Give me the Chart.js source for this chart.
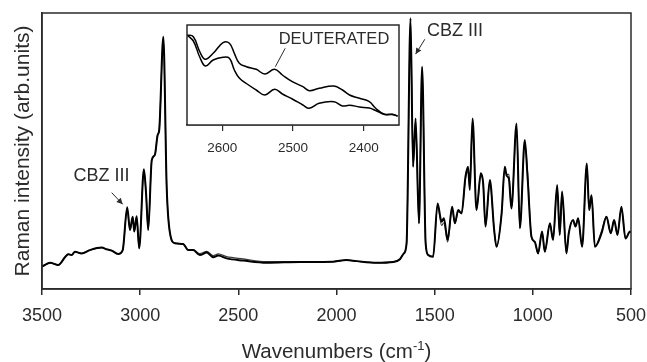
<!DOCTYPE html>
<html>
<head>
<meta charset="utf-8">
<script src="https://cdn.jsdelivr.net/npm/chart.js@4.4.1/dist/chart.umd.min.js"></script>
<style>
  html, body { margin: 0; padding: 0; background: #fff; }
  #wrap { position: relative; width: 647px; height: 362px; }
  #main { position: absolute; left: 0; top: 0; }
  #inset { position: absolute; left: 170px; top: 15px; }
</style>
</head>
<body>
<div id="wrap">
  <canvas id="main" width="647" height="362"></canvas>
  <canvas id="inset" width="245" height="145"></canvas>
</div>
<script>
// ---------------- DATA (main spectrum) ----------------
const wavenumbers = [3500, 3496, 3459, 3417, 3383, 3366, 3349, 3332, 3298, 3256, 3196, 3171, 3145, 3112, 3089,
  3066, 3052, 3038, 3030, 3018, 3005, 2981, 2970, 2959, 2941, 2925, 2911, 2903, 2882, 2865, 2848, 2823,
  2781, 2755, 2730, 2696, 2661, 2628, 2602, 2560, 2475, 2356, 2186, 2017, 1949, 1898, 1796, 1711, 1677,
  1657, 1643, 1623, 1610, 1597, 1580, 1564, 1546, 1533, 1508, 1485, 1465, 1453, 1434, 1411, 1397, 1380,
  1363, 1343, 1330, 1321, 1307, 1287, 1265, 1253, 1241, 1219, 1197, 1185, 1159, 1143, 1133, 1122, 1109,
  1083, 1066, 1041, 1027, 1007, 990, 973, 953, 939, 913, 897, 876, 863, 851, 829, 817, 795, 783, 769,
  749, 725, 713, 701, 684, 650, 625, 603, 586, 569, 549, 528, 505, 500];

const intensityA = [8.2, 8.3, 9.5, 8.7, 11.5, 12.6, 12.3, 13.5, 12.9, 14.1, 15.0, 14.4, 13.9, 12.7, 14.1,
  29.6, 21.4, 26.2, 20.8, 26.4, 14.7, 43.4, 34.7, 21.4, 46.7, 48.6, 55.8, 57.6, 91.4, 37.1, 20.2, 16.6,
  16.3, 14.1, 14.1, 12.3, 13.2, 11.5, 12.1, 11.1, 10.3, 9.5, 9.8, 9.9, 10.5, 10.1, 9.5, 9.8, 10.8,
  12.9, 16.6, 98.1, 44.3, 61.8, 23.8, 80.5, 16.6, 12.3, 11.7, 31.0, 24.4, 25.6, 17.8, 29.8, 23.8, 28.6,
  27.4, 40.7, 44.3, 35.9, 61.8, 28.6, 41.9, 38.3, 22.6, 39.5, 21.4, 15.3, 27.4, 44.3, 41.0, 40.0, 29.2,
  60.0, 22.0, 54.0, 40.7, 18.9, 17.1, 12.9, 20.8, 13.5, 23.8, 17.8, 37.7, 19.6, 35.3, 12.9, 20.2, 25.0, 22.6, 25.6,
  15.3, 45.5, 28.6, 34.0, 15.3, 20.2, 26.2, 20.2, 25.0, 19.6, 29.8, 18.3, 20.8, 20.5];

const intensityB = [8.2, 8.3, 9.5, 8.7, 11.5, 12.6, 12.3, 13.5, 12.9, 14.1, 15.0, 14.4, 13.9, 12.7, 14.1,
  29.0, 21.4, 26.0, 20.8, 26.2, 14.7, 43.0, 34.7, 21.4, 46.5, 48.6, 55.8, 57.6, 91.0, 37.1, 20.2, 16.6,
  16.3, 14.1, 14.3, 12.8, 13.6, 12.1, 12.7, 11.7, 10.9, 9.9, 9.9, 9.9, 10.5, 10.1, 9.5, 9.8, 10.8,
  12.9, 16.6, 97.5, 44.3, 61.0, 23.8, 80.0, 16.6, 12.3, 11.7, 30.5, 23.0, 24.0, 17.0, 29.0, 23.8, 28.0,
  27.4, 40.0, 42.5, 38.0, 61.0, 28.6, 41.0, 38.3, 22.6, 39.0, 21.4, 15.3, 27.4, 43.0, 41.5, 41.5, 29.2,
  59.0, 22.0, 52.5, 42.5, 18.9, 17.1, 12.9, 20.8, 13.5, 23.8, 17.8, 37.0, 19.6, 35.0, 12.9, 20.2, 25.0, 22.6, 25.6,
  15.3, 45.0, 28.6, 34.0, 15.3, 21.0, 26.2, 20.2, 25.0, 19.6, 29.5, 18.3, 20.8, 20.5];

const mainTicks = [3500, 3000, 2500, 2000, 1500, 1000, 500];

// ---------------- DATA (inset) ----------------
const insetWavenumbers = [2650, 2641, 2632, 2624, 2613, 2599, 2590, 2583, 2576, 2566, 2552, 2540, 2526, 2515,
  2501, 2486, 2477, 2463, 2442, 2430, 2420, 2406, 2392, 2383, 2371, 2360, 2352];
const insetUpper = [90, 88.3, 73.3, 65.7, 71.7, 82.3, 81.7, 71.7, 61.7, 58.3, 55.7, 51, 55.7, 50,
  43.3, 38.3, 34.3, 36.7, 39, 35, 30, 26.7, 23.3, 16.7, 10.7, 10.7, 9];
const insetLower = [90, 84, 68, 59, 65, 67.7, 66.7, 55, 47, 41.5, 35, 30, 35.7, 31,
  26, 20, 16.7, 21.7, 23.3, 19, 19.8, 18, 16.9, 14.5, 10.7, 10.5, 9];
const insetTicks = [2600, 2500, 2400];

// ---------------- helpers ----------------
const FONT = '"Liberation Sans", Arial, Helvetica, sans-serif';
const INK = '#2b2b2b';
const toPts = (xs, ys) => xs.map((v, i) => ({ x: v, y: ys[i] }));
const plain = v => String(v);
const noSidePad = s => { s.paddingLeft = 0; s.paddingRight = 0; };

function arrow(ctx, x1, y1, x2, y2, head) {
  ctx.beginPath(); ctx.moveTo(x1, y1); ctx.lineTo(x2, y2); ctx.stroke();
  if (head) {
    const ang = Math.atan2(y2 - y1, x2 - x1);
    const L = 6, W = 3;
    ctx.beginPath();
    ctx.moveTo(x2, y2);
    ctx.lineTo(x2 - L * Math.cos(ang) + W * Math.sin(ang), y2 - L * Math.sin(ang) - W * Math.cos(ang));
    ctx.lineTo(x2 - L * Math.cos(ang) - W * Math.sin(ang), y2 - L * Math.sin(ang) + W * Math.cos(ang));
    ctx.closePath(); ctx.fill();
  }
}

// annotations in data coordinates
const mainNotes = [
  { text: 'CBZ III', x: 3197, y: 40.8, from: [3145, 34.9], to: [3089, 30.7] },
  { text: 'CBZ III', x: 1397, y: 93.3, from: [1550, 90.5], to: [1597, 85.1] }
];
const insetNotes = [
  { text: 'DEUTERATED', x: 2442, y: 86, from: [2511, 76.7], to: [2525, 58.3] }
];

const mainPlugin = {
  id: 'mainDecor',
  afterDraw(chart) {
    const { ctx, chartArea: a, scales: { x, y } } = chart;
    ctx.save();
    ctx.strokeStyle = INK; ctx.lineWidth = 1.5;
    ctx.strokeRect(a.left, a.top, a.right - a.left, a.bottom - a.top);
    ctx.fillStyle = INK;
    ctx.font = '18px ' + FONT;
    ctx.textAlign = 'center'; ctx.textBaseline = 'middle';
    ctx.lineWidth = 1;
    mainNotes.forEach(n => {
      ctx.fillText(n.text, x.getPixelForValue(n.x), y.getPixelForValue(n.y));
      arrow(ctx, x.getPixelForValue(n.from[0]), y.getPixelForValue(n.from[1]),
        x.getPixelForValue(n.to[0]), y.getPixelForValue(n.to[1]), true);
    });
    // x axis title with superscript
    const t1 = 'Wavenumbers (cm', sup = '-1', t2 = ')';
    ctx.textAlign = 'left'; ctx.textBaseline = 'alphabetic';
    ctx.font = '20.5px ' + FONT; const w1 = ctx.measureText(t1).width, w3 = ctx.measureText(t2).width;
    ctx.font = '13px ' + FONT; const w2 = ctx.measureText(sup).width;
    const cx = (a.left + a.right) / 2;
    let sx = cx - (w1 + w2 + w3) / 2;
    const base = 358;
    ctx.font = '20.5px ' + FONT; ctx.fillText(t1, sx, base);
    ctx.font = '13px ' + FONT; ctx.fillText(sup, sx + w1, base - 8);
    ctx.font = '20.5px ' + FONT; ctx.fillText(t2, sx + w1 + w2, base);
    ctx.restore();
  }
};

const insetPlugin = {
  id: 'insetDecor',
  beforeDatasetsDraw(chart) {
    const { ctx, chartArea: a } = chart;
    ctx.save(); ctx.fillStyle = '#fff';
    ctx.fillRect(a.left, a.top, a.right - a.left, a.bottom - a.top);
    ctx.restore();
  },
  afterDraw(chart) {
    const { ctx, chartArea: a, scales: { x, y } } = chart;
    ctx.save();
    ctx.strokeStyle = INK; ctx.lineWidth = 1.5;
    ctx.strokeRect(a.left, a.top, a.right - a.left, a.bottom - a.top);
    ctx.fillStyle = INK; ctx.font = '16.5px ' + FONT;
    ctx.textAlign = 'center'; ctx.textBaseline = 'middle'; ctx.lineWidth = 1;
    insetNotes.forEach(n => {
      ctx.fillText(n.text, x.getPixelForValue(n.x), y.getPixelForValue(n.y));
      arrow(ctx, x.getPixelForValue(n.from[0]), y.getPixelForValue(n.from[1]),
        x.getPixelForValue(n.to[0]), y.getPixelForValue(n.to[1]), false);
    });
    ctx.restore();
  }
};

// ---------------- main chart ----------------
new Chart(document.getElementById('main'), {
  type: 'line',
  data: {
    datasets: [
      { label: 'CBZ', data: toPts(wavenumbers, intensityA), borderColor: '#000', borderWidth: 2,
        pointRadius: 0, cubicInterpolationMode: 'monotone', fill: false },
      { label: 'CBZ deuterated', data: toPts(wavenumbers, intensityB), borderColor: '#3a3a3a', borderWidth: 1.2,
        pointRadius: 0, cubicInterpolationMode: 'monotone', fill: false }
    ]
  },
  options: {
    responsive: false, devicePixelRatio: 1, animation: false,
    layout: { padding: { left: 0, top: 13, right: 16, bottom: 0 } },
    plugins: { legend: { display: false }, tooltip: { enabled: false } },
    scales: {
      x: {
        type: 'linear', min: 500, max: 3500, reverse: true,
        afterBuildTicks: s => { s.ticks = mainTicks.map(v => ({ value: v })); },
        ticks: { color: INK, font: { family: FONT, size: 18 }, padding: 10, maxRotation: 0, callback: plain },
        grid: { display: true, drawOnChartArea: false, drawTicks: true, tickLength: 6, color: INK, lineWidth: 1.5 },
        border: { display: true, color: INK, width: 1.5 },
        afterFit: s => { s.height = 73; noSidePad(s); }
      },
      y: {
        min: 0, max: 100,
        ticks: { display: false },
        grid: { display: false },
        border: { display: true, color: INK, width: 1.5 },
        title: { display: true, text: 'Raman intensity (arb.units)', color: INK,
          font: { family: FONT, size: 21 }, padding: { top: 11, bottom: 0 } },
        afterFit: s => { s.width = 42; s.paddingTop = 0; s.paddingBottom = 0; }
      }
    }
  },
  plugins: [mainPlugin]
});

// ---------------- inset chart ----------------
new Chart(document.getElementById('inset'), {
  type: 'line',
  data: {
    datasets: [
      { label: 'deuterated', data: toPts(insetWavenumbers, insetUpper), borderColor: '#000', borderWidth: 1.5,
        pointRadius: 0, tension: 0.4, fill: false },
      { label: 'reference', data: toPts(insetWavenumbers, insetLower), borderColor: '#000', borderWidth: 1.5,
        pointRadius: 0, tension: 0.4, fill: false }
    ]
  },
  options: {
    responsive: false, devicePixelRatio: 1, animation: false,
    layout: { padding: { left: 17, top: 10, right: 16, bottom: 0 } },
    plugins: { legend: { display: false }, tooltip: { enabled: false } },
    scales: {
      x: {
        type: 'linear', min: 2350, max: 2650, reverse: true,
        afterBuildTicks: s => { s.ticks = insetTicks.map(v => ({ value: v })); },
        ticks: { color: INK, font: { family: FONT, size: 13.5 }, padding: 9, maxRotation: 0, callback: plain },
        grid: { display: true, drawOnChartArea: false, drawTicks: true, tickLength: 6, color: INK, lineWidth: 1.2 },
        border: { display: true, color: INK, width: 1.5 },
        afterFit: s => { s.height = 35; noSidePad(s); }
      },
      y: { display: false, min: 0, max: 100 }
    }
  },
  plugins: [insetPlugin]
});
</script>
</body>
</html>
